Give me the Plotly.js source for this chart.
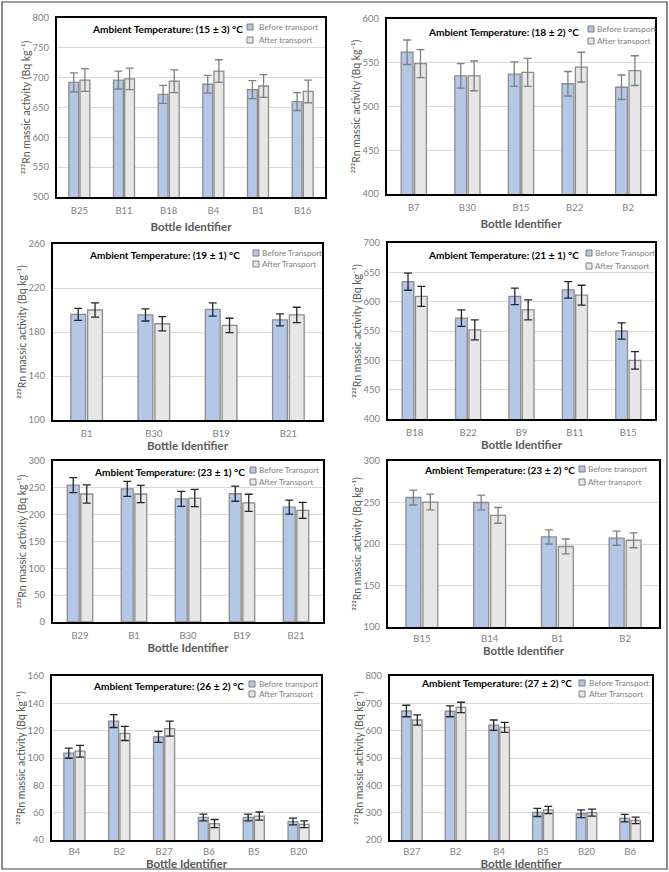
<!DOCTYPE html>
<html>
<head>
<meta charset="utf-8">
<script src="https://cdn.plot.ly/plotly-3.0.1.min.js"></script>
<style>html,body{margin:0;padding:0;background:#fff;}#chart{width:669px;height:872px;}</style>
</head>
<body>
<div id="chart"></div>
<script>
// ---------- data ----------
const temps = ["(15 ± 3) °C", "(18 ± 2) °C", "(19 ± 1) °C", "(21 ± 1) °C", "(23 ± 1) °C", "(23 ± 2) °C", "(26 ± 2) °C", "(27 ± 2) °C"];

const cats1 = ["B25", "B11", "B18", "B4", "B1", "B16"];
const before1 = [692, 696, 672, 689, 680, 660];
const beforeErr1 = [16, 15, 15, 15, 15, 15];
const after1 = [696, 698, 694, 711, 686, 677];
const afterErr1 = [19, 18, 19, 19, 19, 19];

const cats2 = ["B7", "B30", "B15", "B22", "B2"];
const before2 = [562, 535, 537, 526, 522];
const beforeErr2 = [14, 14, 14, 14, 14];
const after2 = [549, 535, 539, 545, 541];
const afterErr2 = [16, 17, 16, 17, 17];

const cats3 = ["B1", "B30", "B19", "B21"];
const before3 = [196, 195.5, 200.5, 191];
const beforeErr3 = [5.5, 5.5, 6, 5.5];
const after3 = [200, 187.5, 186, 195.5];
const afterErr3 = [6.5, 6.5, 6.5, 7];

const cats4 = ["B18", "B22", "B9", "B11", "B15"];
const before4 = [634, 572, 609, 620, 550];
const beforeErr4 = [14.5, 14, 14, 14, 14];
const after4 = [609, 552, 586, 611, 500];
const afterErr4 = [17, 17, 17, 17, 15];

const cats5 = ["B29", "B1", "B30", "B19", "B21"];
const before5 = [255, 248, 229.5, 239, 214];
const beforeErr5 = [14, 14, 14, 14, 13];
const after5 = [238.5, 238.5, 231, 222, 208];
const afterErr5 = [17, 16, 16, 16, 15];

const cats6 = ["B15", "B14", "B1", "B2"];
const before6 = [256, 250, 208.5, 207];
const beforeErr6 = [9, 9, 8.5, 8.5];
const after6 = [250.5, 234.5, 197, 204.5];
const afterErr6 = [9.5, 9.5, 9, 9];

const cats7 = ["B4", "B2", "B27", "B6", "B5", "B20"];
const before7 = [103.5, 127, 115.5, 56.5, 56.5, 53.5];
const beforeErr7 = [3.7, 4.7, 4, 2.5, 2.5, 2.5];
const after7 = [105, 118, 121.5, 52, 57.5, 51.5];
const afterErr7 = [4.3, 5.2, 5.5, 3, 3, 2.5];

const cats8 = ["B27", "B2", "B4", "B5", "B20", "B6"];
const before8 = [672, 671, 620, 301, 296, 280];
const beforeErr8 = [21, 20, 19, 15, 14, 14];
const after8 = [639, 685, 612, 310, 300, 272];
const afterErr8 = [19, 19, 18, 13, 13, 12];

const beforeNames = ["Before transport", "Before transport", "Before Transport", "Before Transport", "Before Transport", "Before transport", "Before transport", "Before Transport"];
const afterNames = ["After transport", "After transport", "After Transport", "After Transport", "After Transport", "After transport", "After Transport", "After Transport"];

const yRanges = [[500, 800], [400, 600], [100, 260], [400, 700], [0, 300], [100, 300], [40, 160], [200, 800]];
const yDticks = [50, 50, 40, 50, 50, 50, 20, 100];

const xTitle = "Bottle Identifier";
const yTitle = "²²²Rn massic activity (Bq kg⁻¹)";

// ---------- layout geometry (pixels) ----------
const W = 669, H = 872;
const boxes = [
  [57, 18, 325, 197], [387, 19, 655, 194],
  [53, 244, 322, 420], [388, 243, 655, 419],
  [53, 461, 323, 622], [388, 461, 659, 627],
  [52, 676, 321, 840], [390, 676, 652, 840]
];
const titlePos = [[90, 29], [426, 32], [87, 255], [426, 255], [92, 472], [422, 470], [91, 686], [419, 683]];
// legend: square centre x, text start x, row1 y, row2 y
const legendPos = [[250, 257, 27, 40], [591, 595, 29, 41], [256, 260, 253, 264], [589, 593, 253, 266],
                   [253, 257, 470, 482], [582, 586, 469, 482], [252, 257, 684, 694], [582, 587, 683, 694]];
const errColors = ["#7f7f7f", "#7f7f7f", "#262626", "#262626", "#262626", "#7f7f7f", "#262626", "#262626"];
const xStandoff = [8, 8, 2, 2, 3, 0, 0, 0];
const xTicklen = [4, 4, 4, 4, 4, 2, 2, 2];

const BEFORE_FILL = "#b4c7e7", AFTER_FILL = "#e7e6e6", BAR_LINE = "#8c8c8c";

const px = x => x / W;
const py = y => 1 - y / H;

const allCats = [cats1, cats2, cats3, cats4, cats5, cats6, cats7, cats8];
const allBefore = [before1, before2, before3, before4, before5, before6, before7, before8];
const allBeforeErr = [beforeErr1, beforeErr2, beforeErr3, beforeErr4, beforeErr5, beforeErr6, beforeErr7, beforeErr8];
const allAfter = [after1, after2, after3, after4, after5, after6, after7, after8];
const allAfterErr = [afterErr1, afterErr2, afterErr3, afterErr4, afterErr5, afterErr6, afterErr7, afterErr8];

const FONT = "Lato, 'Open Sans', sans-serif";
const traces = [];
const layout = {
  width: W, height: H,
  margin: {l: 0, r: 0, t: 0, b: 0},
  paper_bgcolor: "#ffffff", plot_bgcolor: "#ffffff",
  barmode: "group", bargap: 0.5, bargroupgap: 0.12,
  showlegend: false,
  font: {family: FONT, color: "#7f7f7f", size: 10},
  annotations: [],
  shapes: [{type: "rect", xref: "paper", yref: "paper", x0: px(2), x1: px(667), y0: py(869), y1: py(2),
            line: {color: "#404040", width: 1.2}, fillcolor: "rgba(0,0,0,0)"}]
};

for (let i = 0; i < 8; i++) {
  const n = i + 1;
  const xa = n === 1 ? "x" : "x" + n;
  const ya = n === 1 ? "y" : "y" + n;
  const b = boxes[i];
  traces.push({
    type: "bar", x: allCats[i], y: allBefore[i], name: beforeNames[i], xaxis: xa, yaxis: ya,
    marker: {color: BEFORE_FILL, line: {color: BAR_LINE, width: 1.3}},
    error_y: {type: "data", array: allBeforeErr[i], visible: true, color: errColors[i], thickness: 1.3, width: 4}
  });
  traces.push({
    type: "bar", x: allCats[i], y: allAfter[i], name: afterNames[i], xaxis: xa, yaxis: ya,
    marker: {color: AFTER_FILL, line: {color: BAR_LINE, width: 1.3}},
    error_y: {type: "data", array: allAfterErr[i], visible: true, color: errColors[i], thickness: 1.3, width: 4}
  });
  layout["xaxis" + (n === 1 ? "" : n)] = {
    domain: [px(b[0]), px(b[2])], anchor: ya, type: "category",
    showline: true, mirror: true, linecolor: "#000000", linewidth: 2,
    showgrid: false, zeroline: false,
    ticks: "outside", ticklen: xTicklen[i], tickcolor: "rgba(0,0,0,0)",
    tickfont: {size: 9.5, color: "#7f7f7f", family: FONT},
    title: {text: xTitle, standoff: xStandoff[i], font: {size: 11.5, color: "#595959", family: FONT, weight: "bold"}},
    fixedrange: true
  };
  layout["yaxis" + (n === 1 ? "" : n)] = {
    domain: [py(b[3]), py(b[1])], anchor: xa,
    range: yRanges[i], dtick: yDticks[i], tick0: yRanges[i][0],
    showline: true, mirror: true, linecolor: "#000000", linewidth: 2,
    showgrid: true, gridcolor: "#d9d9d9", gridwidth: 1, zeroline: false,
    ticks: "outside", ticklen: 4, tickcolor: "rgba(0,0,0,0)",
    tickfont: {size: 9.5, color: "#7f7f7f", family: FONT},
    title: {text: yTitle, standoff: 0, font: {size: 10.5, color: "#595959", family: FONT}},
    fixedrange: true
  };
  // panel title
  layout.annotations.push({
    xref: "paper", yref: "paper", x: px(titlePos[i][0]), y: py(titlePos[i][1]),
    xanchor: "left", yanchor: "middle", showarrow: false,
    text: "Ambient Temperature: " + temps[i],
    font: {size: 10.1, color: "#000000", family: FONT, weight: "bold"}
  });
  // legend (square key + label) for each panel
  const lp = legendPos[i];
  const rows = [[beforeNames[i], BEFORE_FILL, lp[2]], [afterNames[i], AFTER_FILL, lp[3]]];
  rows.forEach(r => {
    layout.shapes.push({
      type: "rect", xref: "paper", yref: "paper",
      x0: px(lp[0] - 3), x1: px(lp[0] + 3), y0: py(r[2] + 3), y1: py(r[2] - 3),
      fillcolor: r[1], line: {color: "#7f7f7f", width: 1}
    });
    layout.annotations.push({
      xref: "paper", yref: "paper", x: px(lp[1]), y: py(r[2]),
      xanchor: "left", yanchor: "middle", showarrow: false, text: r[0],
      font: {size: 8.2, color: "#7f7f7f", family: FONT}
    });
  });
}

Plotly.newPlot("chart", traces, layout, {displayModeBar: false, staticPlot: true});
</script>
</body>
</html>
